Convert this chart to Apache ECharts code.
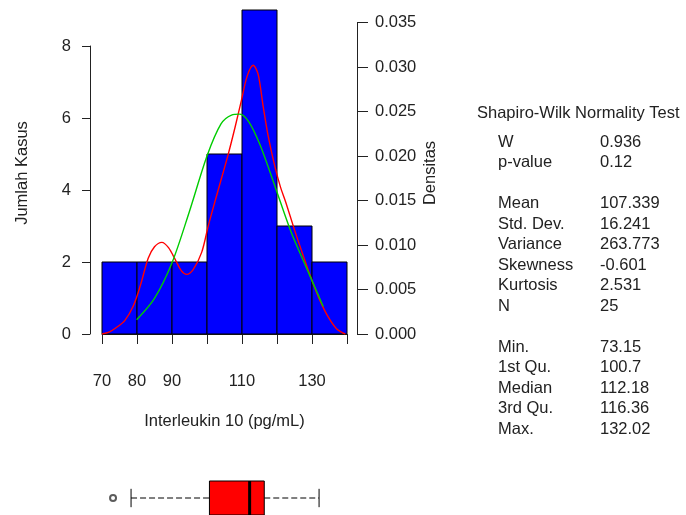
<!DOCTYPE html>
<html>
<head>
<meta charset="utf-8">
<script src="https://cdn.jsdelivr.net/npm/echarts@6/dist/echarts.min.js"></script>
<style>
  html, body { margin: 0; padding: 0; background: #fff; }
  #chart { width: 686px; height: 515px; }
</style>
</head>
<body>
<div id="chart"></div>
<script>
// histogram bins (start of each 10-wide bin) and counts
const binStart = [70, 80, 90, 100, 110, 120, 130];
const binCount = [2, 2, 2, 5, 9, 3, 2];
const binWidth = 10;

// x tick labels that R kept (others were dropped for overlap)
const xTickLabels = ['70', '80', '90', '110', '130'];

// kernel density (red)
const redDensity = [
  [70, 0], [72, 0.0002], [74, 0.0007], [76.5, 0.0015], [79, 0.0032],
  [81, 0.0055], [83.2, 0.0085], [85, 0.0098], [87.1, 0.0103], [89, 0.0097],
  [91, 0.0083], [92.7, 0.0071], [94.2, 0.0067], [96, 0.0072], [98.5, 0.0092],
  [100.4, 0.0122], [103, 0.0159], [106, 0.0201], [108, 0.0232], [109.8, 0.0262],
  [111.5, 0.029], [113.2, 0.0302], [114.6, 0.0292], [116, 0.0257], [117.5, 0.0222],
  [119.4, 0.0188], [121, 0.0165], [122.5, 0.0148], [125, 0.0117], [127.5, 0.0088],
  [130, 0.006], [132, 0.004], [134.5, 0.002], [137, 0.0006], [139.5, 0]
];

// smoother density (green)
const greenDensity = [
  [79.9, 0.0016], [85, 0.004], [90, 0.008], [95, 0.0138], [100, 0.02],
  [104, 0.0236], [107, 0.0246], [109.4, 0.0247], [112, 0.0238], [115, 0.0214],
  [118, 0.0182], [121, 0.0148], [124, 0.0115], [127, 0.0087], [130, 0.006],
  [133.2, 0.0031]
];

// boxplot: lower whisker, Q1, median, Q3, upper whisker; plus outlier
const boxStats = [78.3, 100.7, 112.18, 116.36, 132.02];
const boxOutliers = [73.15];

// summary table
const testTitle = 'Shapiro-Wilk Normality Test';
const statNames = ['W', 'p-value', '', 'Mean', 'Std. Dev.', 'Variance', 'Skewness', 'Kurtosis', 'N', '',
  'Min.', '1st Qu.', 'Median', '3rd Qu.', 'Max.'];
const statValues = ['0.936', '0.12', '', '107.339', '16.241', '263.773', '-0.601', '2.531', '25', '',
  '73.15', '100.7', '112.18', '116.36', '132.02'];

const fontFamily = "'Liberation Sans', Arial, sans-serif";
const fontSize = 16.5;
const ink = '#222';

const chart = echarts.init(document.getElementById('chart'));

const textStyle = (text, extra) =>
  Object.assign({ text: text, fill: ink, fontSize: fontSize, fontFamily: fontFamily, verticalAlign: 'middle' }, extra || {});

const graphics = [];
// axis titles (R centres them on the plot region, which reaches up to 9)
graphics.push({ type: 'text', x: 22, y: 173, rotation: Math.PI / 2, style: textStyle('Jumlah Kasus', { align: 'center' }) });
graphics.push({ type: 'text', x: 430, y: 173, rotation: Math.PI / 2, style: textStyle('Densitas', { align: 'center' }) });
// stats block
graphics.push({ type: 'text', x: 477, y: 113, style: textStyle(testTitle) });
statNames.forEach((name, i) => {
  if (!name) return;
  const y = 142 + i * 20.5;
  graphics.push({ type: 'text', x: 498, y: y, style: textStyle(name) });
  graphics.push({ type: 'text', x: 600, y: y, style: textStyle(statValues[i]) });
});

const axisText = { color: ink, fontSize: fontSize, fontFamily: fontFamily };
const axisLine = { show: true, lineStyle: { color: ink, width: 1 } };

const option = {
  animation: false,
  backgroundColor: '#fff',
  textStyle: { fontFamily: fontFamily },
  grid: [
    { left: 102, top: 46, width: 245, height: 288 },     // counts
    { left: 102, top: 22.5, width: 245, height: 311.5 }, // density
    { left: 102, top: 481, width: 245, height: 34 }      // boxplot
  ],
  xAxis: [
    {
      gridIndex: 0, type: 'value', min: 70, max: 140, interval: 10,
      offset: 14,
      axisLine: axisLine,
      axisTick: { show: true, length: 10, lineStyle: { color: ink } },
      splitLine: { show: false },
      axisLabel: Object.assign({
        margin: 25,
        formatter: (v) => (xTickLabels.indexOf(String(v)) >= 0 ? String(v) : '')
      }, axisText),
      name: 'Interleukin 10 (pg/mL)',
      nameLocation: 'middle',
      nameGap: 65,
      nameTextStyle: axisText
    },
    { gridIndex: 1, type: 'value', min: 70, max: 140, show: false },
    { gridIndex: 2, type: 'value', min: 70, max: 140, show: false }
  ],
  yAxis: [
    {
      gridIndex: 0, type: 'value', min: 0, max: 8, interval: 2,
      position: 'left', offset: 12,
      axisLine: axisLine,
      axisTick: { show: true, length: 8, lineStyle: { color: ink } },
      splitLine: { show: false },
      axisLabel: Object.assign({ margin: 19 }, axisText)
    },
    {
      gridIndex: 1, type: 'value', min: 0, max: 0.035, interval: 0.005,
      position: 'right', offset: 10,
      axisLine: axisLine,
      axisTick: { show: true, length: 11, lineStyle: { color: ink } },
      splitLine: { show: false },
      axisLabel: Object.assign({ margin: 18, formatter: (v) => v.toFixed(3) }, axisText)
    },
    { gridIndex: 2, type: 'category', data: ['IL10'], show: false }
  ],
  graphic: graphics,
  series: [
    {
      name: 'Histogram',
      type: 'custom',
      xAxisIndex: 0, yAxisIndex: 0,
      clip: false,
      data: binStart.map((s, i) => [s, binCount[i]]),
      renderItem: (params, api) => {
        const x0 = api.value(0);
        const p0 = api.coord([x0, 0]);
        const p1 = api.coord([x0 + binWidth, api.value(1)]);
        return {
          type: 'rect',
          shape: { x: p0[0], y: p1[1], width: p1[0] - p0[0], height: p0[1] - p1[1] },
          style: { fill: '#0000ff', stroke: '#000', lineWidth: 1 }
        };
      }
    },
    {
      name: 'Kernel',
      type: 'line',
      xAxisIndex: 1, yAxisIndex: 1,
      data: redDensity,
      smooth: 0.3,
      showSymbol: false,
      lineStyle: { color: '#ff0000', width: 1.4 },
      z: 3
    },
    {
      name: 'Smooth',
      type: 'line',
      xAxisIndex: 1, yAxisIndex: 1,
      data: greenDensity,
      smooth: 0.3,
      showSymbol: false,
      lineStyle: { color: '#00cc00', width: 1.4 },
      z: 4
    },
    {
      name: 'Boxplot',
      type: 'custom',
      xAxisIndex: 2, yAxisIndex: 2,
      data: [[0].concat(boxStats)],
      renderItem: (params, api) => {
        const band = api.size([0, 1])[1];
        const pt = (i) => api.coord([api.value(i), 0]);
        const lo = pt(1), q1 = pt(2), md = pt(3), q3 = pt(4), hi = pt(5);
        const cy = lo[1];
        const half = band / 2;
        const cap = band * 0.27;
        const dash = { stroke: '#000', lineWidth: 1, lineDash: [6, 3] };
        const solid = { stroke: '#000', lineWidth: 1 };
        return {
          type: 'group',
          children: [
            { type: 'line', shape: { x1: lo[0], y1: cy, x2: q1[0], y2: cy }, style: dash },
            { type: 'line', shape: { x1: q3[0], y1: cy, x2: hi[0], y2: cy }, style: dash },
            { type: 'line', shape: { x1: lo[0], y1: cy - cap, x2: lo[0], y2: cy + cap }, style: solid },
            { type: 'line', shape: { x1: hi[0], y1: cy - cap, x2: hi[0], y2: cy + cap }, style: solid },
            {
              type: 'rect',
              shape: { x: q1[0], y: cy - half, width: q3[0] - q1[0], height: band },
              style: { fill: '#ff0000', stroke: '#000', lineWidth: 1 }
            },
            { type: 'line', shape: { x1: md[0], y1: cy - half, x2: md[0], y2: cy + half }, style: { stroke: '#000', lineWidth: 3 } }
          ]
        };
      }
    },
    {
      name: 'Outlier',
      type: 'scatter',
      xAxisIndex: 2, yAxisIndex: 2,
      data: boxOutliers.map((v) => [v, 0]),
      symbol: 'emptyCircle',
      symbolSize: 6,
      itemStyle: { color: '#333', borderWidth: 1 }
    }
  ]
};

chart.setOption(option);
window.addEventListener('resize', () => chart.resize());
</script>
</body>
</html>
